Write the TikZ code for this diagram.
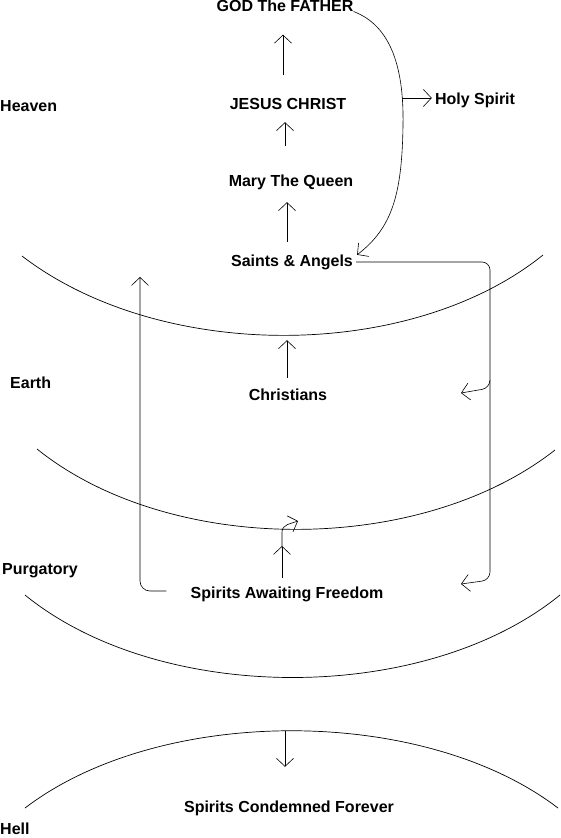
\documentclass[tikz,border=0pt]{standalone}
\usepackage{fontspec}
\setmainfont{Liberation Sans}
\usetikzlibrary{arrows.meta}

\begin{document}
\begin{tikzpicture}[x=1pt, y=-1pt,
    lbl/.style={font=\fontsize{16}{19}\selectfont\bfseries, inner sep=0pt, text height=11pt, text depth=3pt},
    arr/.style={-{Straight Barb[length=8pt,width=17pt]}, line width=0.6pt},
    realm/.style={line width=0.7pt}]
    \useasboundingbox (0,0) rectangle (561,838);

    % the ladder of souls
    \node[lbl] (god) at (285,7.5) {GOD The FATHER};
    \node[lbl] (jesus) at (288,105) {JESUS CHRIST};
    \node[lbl] (mary) at (291,182) {Mary The Queen};
    \node[lbl] (saints) at (292,262) {Saints \& Angels};
    \node[lbl] (christians) at (288,396) {Christians};
    \node[lbl] (awaiting) at (287,594) {Spirits Awaiting Freedom};
    \node[lbl] (condemned) at (289,808) {Spirits Condemned Forever};
    \node[lbl] (holy) at (475,100) {Holy Spirit};

    % realms
    \node[lbl, anchor=west] (heaven) at (0,107) {Heaven};
    \node[lbl, anchor=west] (earth) at (10,384) {Earth};
    \node[lbl, anchor=west] (purgatory) at (2,570) {Purgatory};
    \node[lbl, anchor=west] (hell) at (0,830) {Hell};

    \draw[realm] (22,256) .. controls (160,362) and (410,362) .. (543,255);
    \draw[realm] (37,449) .. controls (170,556) and (420,556) .. (555,450);
    \draw[realm] (25,595) .. controls (160,705) and (425,705) .. (560,595);
    \draw[realm] (25,808) .. controls (160,705) and (423,705) .. (558,808);

    \coordinate (gate) at (282,546);
    \coordinate (freed) at (298,521);
    \coordinate (upEnd) at (140,277);
    \coordinate (hellTop) at (285,731);
    \coordinate (branch) at (402,98);
    \coordinate (rightTop) at (490,262);
    \coordinate (rightMid) at (490,388);
    \coordinate (toEarth) at (461,393);
    \coordinate (rightLow) at (490,580);
    \coordinate (toPurg) at (461,584);

    % upward steps
    \draw[arr, shorten <=23pt, shorten >=20pt] ([xshift=-5pt]jesus.north) -- ([xshift=-5pt]jesus.north |- god.south);
    \draw[arr, shorten <=29pt, shorten >=10pt] ([xshift=-6pt]mary.north) -- ([xshift=-6pt]mary.north |- jesus.south);
    \draw[arr, shorten <=13pt, shorten >=13pt] ([xshift=-5pt]saints.north) -- ([xshift=-5pt]saints.north |- mary.south);
    \draw[arr, shorten <=11pt, shorten >=71pt] ([xshift=-1pt]christians.north) -- ([xshift=-1pt]christians.north |- saints.south);
    \draw[arr, shorten <=9pt] (awaiting.north -| gate) -- (gate);
    \draw[arr] (gate) -- (282,532) to[out=90,in=200] (freed);
    \draw[arr, shorten >=34pt] (hellTop) -- (hellTop |- condemned.north);

    % Holy Spirit
    \draw[arr] ([yshift=-4pt]god.east) .. controls (392,26) and (404,70) .. (403,125)
        .. controls (402,195) and (392,228) .. ([xshift=4pt]saints.north east);
    \draw[arr, shorten >=3pt] (branch) -- (branch -| holy.west);

    % paths between realms
    \draw[arr, rounded corners=10pt, shorten <=24pt] ([yshift=3pt]awaiting.west) -| (upEnd);
    \draw[arr, rounded corners=8pt, shorten <=3pt] (saints.east) -- (rightTop) -- (rightMid) -- (toEarth);
    \draw[arr, rounded corners=8pt] (490,380) -- (rightLow) -- (toPurg);
\end{tikzpicture}
\end{document}
